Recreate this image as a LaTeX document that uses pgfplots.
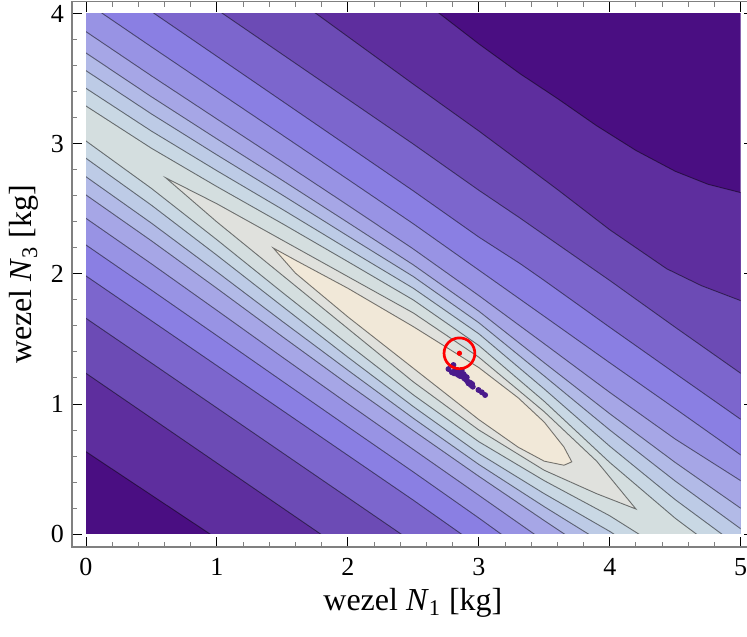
\documentclass[border=0pt]{standalone}
\usepackage{pgfplots}
\pgfplotsset{compat=1.18}
\usepackage{fontspec}
\setmainfont{Liberation Serif}
\definecolor{c0}{HTML}{4A0E82}
\definecolor{c1}{HTML}{5E2E9E}
\definecolor{c2}{HTML}{6C4BB5}
\definecolor{c3}{HTML}{7C66CD}
\definecolor{c4}{HTML}{8A7FE3}
\definecolor{c5}{HTML}{9893E4}
\definecolor{c6}{HTML}{A6A6E6}
\definecolor{c7}{HTML}{B2BAE7}
\definecolor{c8}{HTML}{BDCBE6}
\definecolor{c9}{HTML}{C9D8E4}
\definecolor{c10}{HTML}{D4DEDF}
\definecolor{c11}{HTML}{E0E1DD}
\definecolor{c12}{HTML}{F1E8D8}
\definecolor{dotc}{HTML}{4A1A8C}
\pgfplotsset{cl/.style={draw=black, draw opacity=0.5, line width=0.45pt}}
\begin{document}
\begin{tikzpicture}
\path[use as bounding box] (0,0) rectangle (373.5pt,318pt);
\begin{axis}[at={(43pt,51pt)}, anchor=south west, x=65.47pt, y=65pt,
  xmin=0, xmax=5, ymin=0, ymax=4, enlargelimits=false, hide axis]
\addplot[fill=c0, draw=none] coordinates {(-0.1,-0.1) (5.1,-0.1) (5.1,4.1) (-0.1,4.1)} -- cycle;
% band 1
\addplot[cl, fill=c1] coordinates {(-0.3,0.843) (0,0.633) (0.947,0) (5.3,-2.9)
 (5.3,2.56) (5.0,2.626) (4.75,2.69) (4.5,2.79) (4.2,2.95) (3.9,3.14) (3.6,3.35) (3.315,3.54) (3.0,3.77) (2.704,4.0) (2,4.55) (1,5.5) (0,6.2) (-0.3,6.4)} -- cycle;
% band 2
\addplot[cl, fill=c2] coordinates {(-0.3,1.443) (0,1.236) (0.5,0.891) (1,0.546) (1.5,0.201) (2,-0.144) (5.3,-2.5)
 (5.3,1.68) (5,1.795) (4.7,1.91) (4.435,2.04) (4,2.34) (3.6,2.65) (3.315,2.864) (3,3.10) (2.5,3.46) (1.762,4.0) (1,4.526) (0,5.216) (-0.3,5.42)} -- cycle;
% band 3
\addplot[cl, fill=c3] coordinates {(-0.3,1.866) (0,1.659) (0.5,1.315) (1,0.97) (1.5,0.625) (2,0.28) (2.5,-0.065) (5.3,-2.1)
 (5.3,1.02) (5,1.236) (4.5,1.59) (4,1.95) (3.5,2.30) (3.315,2.43) (3,2.644) (2.5,2.999) (2,3.344) (1.5,3.689) (1.049,4.0) (0.5,4.379) (0,4.724) (-0.3,4.93)} -- cycle;
% band 4
\addplot[cl, fill=c4] coordinates {(-0.3,2.192) (0,1.985) (0.5,1.64) (1,1.295) (1.5,0.95) (2,0.605) (2.5,0.26) (3,-0.095) (5.3,-1.8)
 (5.3,0.67) (5,0.882) (4.5,1.235) (4,1.59) (3.5,1.95) (3.315,2.08) (3,2.284) (2.5,2.639) (2,2.984) (1.5,3.329) (1,3.674) (0.527,4.0) (0,4.364) (-0.3,4.57)} -- cycle;
% band 5
\addplot[cl, fill=c5] coordinates {(-0.3,2.433) (0,2.223) (0.5,1.876) (1,1.526) (1.5,1.175) (2,0.825) (2.5,0.477) (3,0.123) (3.5,-0.24) (5.3,-1.55)
 (5.3,0.40) (5,0.608) (4.5,0.964) (4,1.317) (3.5,1.674) (3,2.03) (2.5,2.386) (2,2.728) (1.5,3.068) (1,3.407) (0.5,3.747) (0,4.09) (-0.3,4.29)} -- cycle;
% band 6
\addplot[cl, fill=c6] coordinates {(-0.3,2.638) (0,2.428) (0.5,2.078) (1,1.72) (1.5,1.36) (2,1.003) (2.5,0.65) (3,0.298) (3.5,-0.055) (5.3,-1.35)
 (5.3,0.20) (5,0.41) (4.5,0.73) (4,1.089) (3.5,1.463) (3,1.834) (2.5,2.192) (2,2.529) (1.5,2.862) (1,3.192) (0.5,3.524) (0,3.864) (-0.3,4.07)} -- cycle;
% band 7
\addplot[cl, fill=c7] coordinates {(-0.3,2.82) (0,2.608) (0.5,2.255) (1,1.889) (1.5,1.518) (2,1.152) (2.5,0.795) (3,0.444) (3.5,0.103) (4,-0.233) (5.3,-1.15)
 (5.3,-0.01) (5,0.198) (4.5,0.55) (4,0.925) (3.5,1.317) (3,1.714) (2.5,2.07) (2,2.396) (1.5,2.72) (1,3.039) (0.5,3.363) (0,3.70) (-0.3,3.90)} -- cycle;
% band 8
\addplot[cl, fill=c8] coordinates {(-0.3,2.96) (0,2.748) (0.5,2.391) (1,2.016) (1.5,1.635) (2,1.26) (2.5,0.89) (3,0.535) (3.5,0.21) (4,-0.102) (5.3,-1.02)
 (5.3,-0.18) (5,0.04) (4.5,0.407) (4,0.80) (3.5,1.215) (3,1.625) (2.5,1.98) (2,2.292) (1.5,2.607) (1,2.916) (0.5,3.231) (0,3.564) (-0.3,3.76)} -- cycle;
% band 9
\addplot[cl, fill=c9] coordinates {(-0.3,3.10) (0,2.89) (0.5,2.529) (1,2.144) (1.5,1.751) (2,1.36) (2.5,0.98) (3,0.62) (3.5,0.31) (4,0.02) (4.5,-0.308) (5.3,-0.88)
 (5.3,-0.33) (5,-0.108) (4.5,0.264) (4,0.675) (3.5,1.115) (3,1.54) (2.5,1.89) (2,2.192) (1.5,2.497) (1,2.794) (0.5,3.099) (0,3.428) (-0.3,3.63)} -- cycle;
% band 10
\addplot[cl, fill=c10] coordinates {(-0.3,3.24) (0,3.023) (0.5,2.658) (1,2.263) (1.5,1.858) (2,1.46) (2.5,1.07) (3,0.71) (3.5,0.41) (4,0.14) (4.5,-0.177) (5.3,-0.75)
 (5.3,-0.48) (5,-0.256) (4.5,0.121) (4,0.55) (3.5,1.02) (3,1.45) (2.5,1.80) (2,2.095) (1.5,2.387) (1,2.672) (0.5,2.967) (0,3.292) (-0.3,3.49)} -- cycle;
% island 11
\addplot[cl, fill=c11] coordinates {(0.61,2.739) (1,2.54) (1.5,2.26) (2,1.98) (2.5,1.70) (3,1.36) (3.5,0.94) (3.9,0.56) (4.2,0.192)
 (3.9,0.31) (3.5,0.49) (3,0.80) (2.5,1.17) (2,1.58) (1.5,1.99) (1,2.40)} -- cycle;
% island 12
\addplot[cl, fill=c12] coordinates {(1.43,2.2) (1.6,2.106) (2,1.89) (2.5,1.595) (3,1.28) (3.3,1.048) (3.5,0.86) (3.65,0.669) (3.71,0.555)
 (3.65,0.529) (3.5,0.56) (3.3,0.668) (3,0.88) (2.5,1.275) (2,1.67) (1.6,2.006)} -- cycle;
\end{axis}
\begin{axis}[at={(36pt,44.5pt)}, anchor=south west, x=65.47pt, y=65pt,
  xmin=-0.10692, xmax=5.10, ymin=-0.1, ymax=4.096, enlargelimits=false,
  xtick={0,1,2,3,4,5}, ytick={0,1,2,3,4}, minor x tick num=4, minor y tick num=4,
  tick align=inside, major tick length=5pt, minor tick length=2.5pt,
  axis line style={draw=gray, line width=0.6pt},
  major tick style={black, line width=0.5pt}, minor tick style={gray, line width=0.5pt},
  tick label style={font=\fontsize{13}{15}\selectfont},
  /pgf/number format/assume math mode=true,
  xticklabel shift=2pt, yticklabel shift=0.5pt,
  label style={font=\fontsize{16}{19}\selectfont},
  xlabel={wezel \textit{N}\textsubscript{1} [kg]},
  ylabel={wezel \textit{N}\textsubscript{3} [kg]},
  xlabel style={at={(axis description cs:0.5,-0.1155)}, anchor=base},
  ylabel style={at={(axis description cs:-0.0587,0.5)}, anchor=base}]
\addplot[only marks, mark=*, mark size=1.25pt, color=dotc] coordinates {
(2.768,1.269) (2.806,1.30) (2.794,1.244) (2.811,1.236) (2.832,1.231) (2.844,1.223) (2.857,1.215)
(2.870,1.262) (2.878,1.21) (2.888,1.198) (2.895,1.215) (2.903,1.185) (2.908,1.205) (2.916,1.172)
(2.921,1.159) (2.934,1.164) (2.939,1.146) (2.954,1.133) (2.949,1.154) (2.997,1.108) (3.023,1.090)
(3.048,1.069) (2.819,1.262) (2.837,1.249) (2.857,1.241) (2.883,1.231)};
\addplot[only marks, mark=o, mark size=7.7pt, mark options={draw=red, line width=1.35pt}] coordinates {(2.852,1.39)};
\addplot[only marks, mark=*, mark size=1.1pt, color=red] coordinates {(2.852,1.39)};
\end{axis}
\end{tikzpicture}
\end{document}
